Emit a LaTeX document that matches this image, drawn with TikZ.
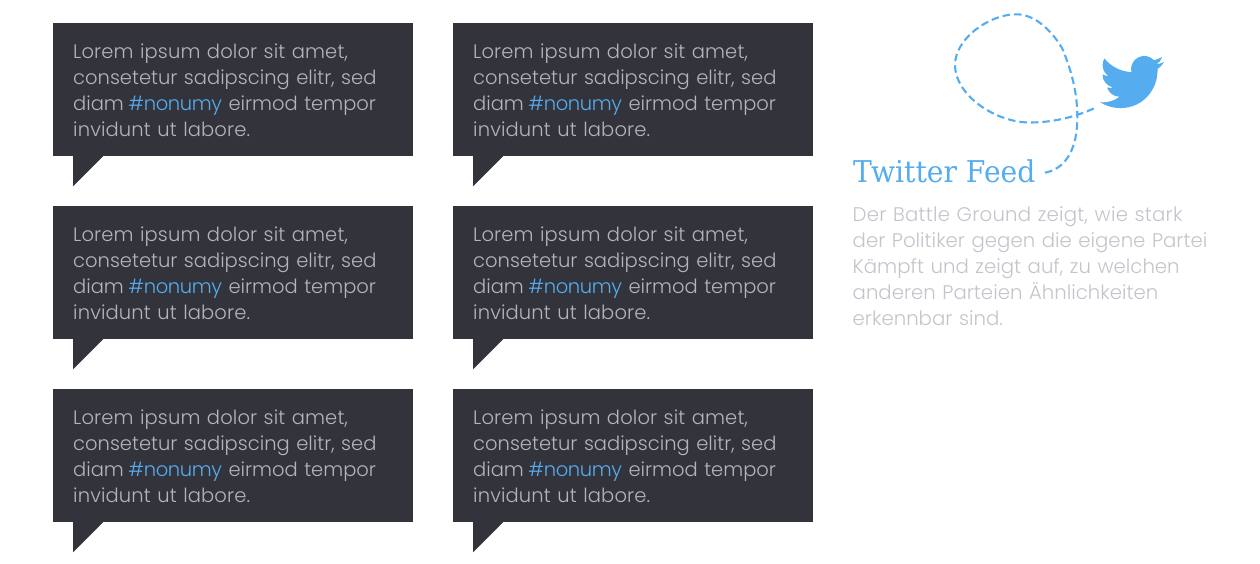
\documentclass[tikz,border=0pt]{standalone}
\usepackage{fontspec}
\setmainfont{Poppins}[UprightFont=* Light]
\newfontfamily\titlefont{DejaVu Serif}[FakeStretch=0.94]
\newfontfamily\bodyfont{Poppins}[UprightFont=* Light]
\newfontfamily\bodywide{Poppins}[UprightFont=* Light,LetterSpace=0.7]
\newfontfamily\bodytight{Poppins}[UprightFont=* Light,LetterSpace=-2]
\newfontfamily\sidewide{Poppins}[UprightFont=* Light,LetterSpace=1.2]
\definecolor{darkbox}{HTML}{33333C}
\definecolor{bluetw}{HTML}{55ACEE}
\definecolor{lighttext}{HTML}{B4B4BC}
\definecolor{sidetext}{HTML}{C4C4CC}
\usetikzlibrary{calc}
\tikzset{
  bubble/.style={fill=darkbox,text=lighttext,anchor=north west,minimum width=360pt,minimum height=133pt,
    text width=320pt,text height=10pt,text depth=73pt,inner xsep=20pt,inner ysep=0pt,align=left,
    font=\bodyfont\fontsize{19.5pt}{26pt}\selectfont},
  tailshape/.style={fill=darkbox},
  flight/.style={draw=bluetw,line width=2.1pt,dash pattern=on 7.5pt off 4pt},
  titlestyle/.style={text=bluetw,anchor=base west,inner sep=0pt,font=\titlefont\fontsize{30pt}{32pt}\selectfont},
  sidestyle/.style={text=sidetext,anchor=north west,inner sep=0pt,text width=380pt,align=left,font=\bodyfont\fontsize{19.7pt}{26pt}\selectfont},
}
\begin{document}
\begin{tikzpicture}[x=1pt,y=-1pt]
\useasboundingbox (0,0) rectangle (1260,564);
\foreach \nm/\px/\py in {a/53/23,b/453/23,c/53/206,d/453/206,e/53/389,f/453/389}{
  \node[bubble] (\nm) at (\px,\py) {{\bodywide Lorem ipsum dolor sit amet,}\\consetetur sadipscing elitr, sed\\diam\kern-2pt\ \textcolor{bluetw}{\bodytight\#nonumy}\ eirmod tempor\\{\bodywide invidunt ut labore.}};
  \fill[tailshape] ($(\nm.south west)+(20,-1)$) -- ++(0,31) -- ++(30,-30) -- ++(0,-1) -- cycle;
}
\node[titlestyle] (title) at (853,182.5) {Twitter Feed};
\node[sidestyle] (side) at (852.5,206) {{\sidewide Der Battle Ground zeigt, wie stark}\\der Politiker gegen die eigene Partei\\Kämpft und zeigt auf, zu welchen\\anderen Parteien Ähnlichkeiten\\erkennbar sind.};
\coordinate (flightstart) at (1045,172.7);
\coordinate (flightend) at (1097,107);
\draw[flight] (flightstart) .. controls (1060,170) and (1072,158) .. (1076,135)
  .. controls (1079,115) and (1078,85) .. (1062,48)
  .. controls (1050,28) and (1033,14) .. (1016,14.3)
  .. controls (990,14.3) and (955,38) .. (955,65)
  .. controls (955,95) and (995,122.5) .. (1030,122.5)
  .. controls (1055,122.5) and (1078,116) .. (flightend);
% bird
\begin{scope}[shift={(1100,50)},x=2.67pt,y=-2.67pt]
\fill[bluetw] (23.953,4.57) .. controls (23.1,4.95) and (22.1,5.2) .. (21.128,5.345)
 .. controls (22.15,4.75) and (22.95,3.75) .. (23.291,2.622)
 .. controls (22.34,3.177) and (21.286,3.581) .. (20.164,3.806)
 .. controls (19.227,2.806) and (17.94,2.25) .. (16.57,2.25)
 .. controls (13.41,2.25) and (11.06,5.21) .. (11.78,8.288)
 .. controls (7.69,8.095) and (4.067,6.13) .. (1.64,3.162)
 .. controls (1.2,3.9) and (0.974,4.75) .. (0.974,5.637)
 .. controls (0.974,7.347) and (1.844,8.85) .. (3.162,9.733)
 .. controls (2.36,9.7) and (1.6,9.5) .. (0.934,9.117)
 -- (0.934,9.177)
 .. controls (0.934,11.6) and (2.6,13.5) .. (4.88,14.004)
 .. controls (4.2,14.2) and (3.4,14.25) .. (2.668,14.089)
 .. controls (3.3,16) and (5.1,17.45) .. (7.272,17.506)
 .. controls (5.6,18.85) and (3.4,19.611) .. (1.17,19.611)
 .. controls (0.78,19.611) and (0.391,19.588) .. (0,19.544)
 .. controls (2.2,20.95) and (4.8,21.753) .. (7.557,21.753)
 .. controls (16.61,21.753) and (21.555,14.257) .. (21.555,7.768)
 .. controls (21.555,7.558) and (21.555,7.348) .. (21.54,7.138)
 .. controls (22.5,6.45) and (23.35,5.55) .. (24,4.59) -- cycle;
\end{scope}
\end{tikzpicture}
\end{document}
